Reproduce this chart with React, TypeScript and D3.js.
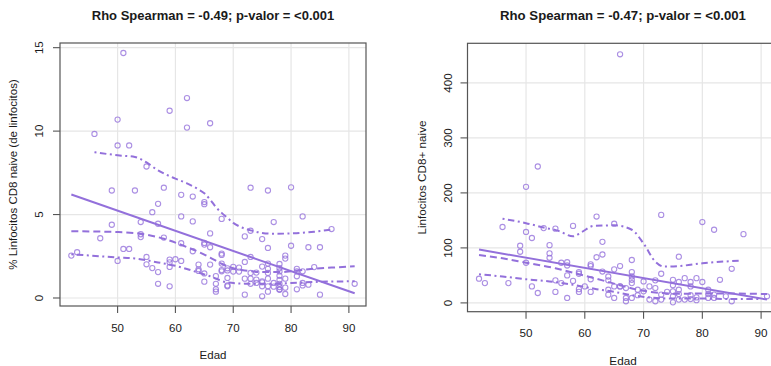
import React from 'react';
import * as d3 from 'd3';

// ---------- Left panel data: % Linfocitos CD8 naive ----------
const leftTitle = 'Rho Spearman = -0.49; p-valor = <0.001';
const leftYLabel = '% Linfocitos CD8 naive (de linfocitos)';
const leftAges = [
  51, 46, 50, 50, 52, 55, 59, 62, 62, 66, 49, 53, 58, 61, 63, 65, 65, 57, 56, 61,
  68, 63, 54, 57, 49, 73, 76, 80, 82, 77, 73, 87, 66, 54, 54, 47, 58, 72, 75, 65,
  65, 61, 66, 76, 80, 83, 85, 51, 52, 63, 68, 68, 73, 79, 79, 42, 43, 55, 50, 59,
  59, 60, 61, 72, 64, 55, 68, 66, 76, 78, 59, 56, 70, 71, 69, 64, 64, 57, 65, 68,
  68, 69, 70, 71, 73, 74, 75, 76, 76, 78, 78, 81, 81, 81, 82, 84, 67, 69, 72, 73,
  74, 75, 76, 78, 78, 79, 65, 57, 67, 73, 74, 75, 77, 78, 82, 83, 82, 59, 69, 69,
  75, 76, 77, 78, 79, 81, 91, 67, 67, 72, 76, 79, 85, 75, 78, 78,
];
const leftVals = [
  14.68, 9.83, 10.69, 9.14, 9.14, 7.88, 11.22, 11.98, 10.21, 10.47, 6.44, 6.44, 6.61, 6.18, 6.08, 5.75, 5.62, 5.64, 5.14, 4.89,
  4.74, 4.59, 4.55, 4.45, 4.39, 6.61, 6.44, 6.63, 4.89, 4.55, 4.03, 4.13, 3.87, 3.82, 3.65, 3.58, 3.62, 3.69, 3.53, 3.3,
  3.2, 3.28, 3.04, 3.0, 3.13, 3.04, 3.04, 2.94, 2.94, 2.8, 2.66, 2.58, 2.46, 2.54, 2.36, 2.54, 2.74, 2.46, 2.22, 2.3,
  2.14, 2.32, 2.22, 2.16, 2.0, 2.02, 2.06, 2.0, 2.06, 2.04, 1.86, 1.79, 1.87, 1.82, 1.78, 1.72, 1.62, 1.55, 1.47, 1.67,
  1.6, 1.65, 1.58, 1.58, 1.5, 1.52, 1.88, 1.75, 1.5, 1.79, 1.59, 1.75, 1.6, 1.3, 1.6, 1.85, 1.31, 1.2, 1.16, 1.16,
  1.1, 1.0, 1.16, 1.33, 1.08, 1.16, 0.98, 0.85, 0.85, 0.85, 0.9, 0.94, 0.9, 0.85, 0.9, 0.8, 0.75, 0.7, 0.75, 0.7,
  0.7, 0.7, 0.68, 0.52, 0.62, 0.52, 0.85, 0.52, 0.38, 0.2, 0.38, 0.24, 0.2, 0.1, 0.66, 0.49,
];
const leftFitAges = [42, 91];
const leftFitVals = [6.2, 0.28];
const leftMedAges = [42, 50, 54, 58, 62, 65, 66, 68, 70, 72, 75, 78, 80, 83, 87, 91];
const leftMedVals = [4.0, 3.95, 3.85, 3.55, 3.05, 2.6, 2.42, 2.05, 1.78, 1.65, 1.55, 1.55, 1.6, 1.72, 1.82, 1.9];
const leftLowAges = [42, 45, 50, 53, 57, 60, 63, 66, 69, 72, 76, 80, 85, 91];
const leftLowVals = [2.62, 2.55, 2.43, 2.37, 2.13, 1.93, 1.63, 1.3, 0.93, 0.86, 0.85, 0.9, 0.97, 1.0];
const leftHighAges = [46, 50, 53, 55, 57, 60, 62, 64, 65, 66, 67, 68, 69, 70, 71, 73, 75, 77, 80, 84, 87];
const leftHighVals = [8.74, 8.55, 8.45, 8.12, 7.65, 7.15, 6.87, 6.5, 6.27, 5.9, 5.45, 5.1, 4.8, 4.5, 4.3, 4.05, 3.9, 3.85, 3.87, 3.97, 4.1];
const leftYTicks = [0, 5, 10, 15];

// ---------- Right panel data: Linfocitos CD8+ naive ----------
const rightTitle = 'Rho Spearman = -0.47; p-valor = <0.001';
const rightYLabel = 'Linfocitos CD8+ naive';
const rightAges = [
  66, 52, 42, 43, 46, 47, 49, 49, 50, 50, 50, 51, 51, 52, 53, 54, 54, 54, 55, 55,
  55, 56, 56, 57, 57, 57, 57, 58, 58, 59, 59, 59, 59, 60, 61, 61, 61, 61, 62, 62,
  63, 63, 63, 64, 64, 64, 64, 65, 65, 65, 65, 66, 66, 67, 67, 67, 68, 68, 68, 68,
  68, 68, 69, 69, 70, 70, 71, 71, 72, 72, 72, 73, 73, 73, 73, 74, 75, 75, 75, 75,
  75, 76, 76, 76, 76, 77, 77, 78, 78, 78, 79, 79, 79, 80, 80, 81, 81, 81, 82, 82,
  82, 83, 84, 85, 85, 87, 91, 66, 76, 78,
];
const rightVals = [
  452, 248, 44, 36, 138, 36, 104, 93, 211, 129, 73, 30, 118, 18, 136, 105, 90, 82, 135, 41,
  20, 36, 73, 74, 68, 50, 9, 140, 40, 56, 53, 25, 20, 30, 70, 67, 43, 20, 157, 83,
  111, 88, 57, 48, 41, 24, 15, 144, 61, 30, 9, 67, 30, 27, 9, 3, 78, 56, 48, 42,
  36, 9, 24, 14, 39, 21, 30, 6, 41, 27, 3, 160, 53, 15, 6, 20, 42, 32, 21, 12,
  1, 84, 38, 24, 6, 45, 6, 38, 14, 7, 45, 10, 5, 147, 38, 24, 16, 9, 133, 15,
  9, 42, 12, 62, 3, 125, 12, 30, 16, 30,
];
const rightFitAges = [42, 91];
const rightFitVals = [97, 6];
const rightMedAges = [42, 46, 50, 55, 59, 63, 66, 69, 72, 76, 80, 85, 91];
const rightMedVals = [87, 81, 73, 63, 52, 41, 32, 24, 19, 16.5, 17, 17, 16];
const rightLowAges = [42, 46, 50, 54, 58, 62, 65, 68, 71, 75, 80, 85, 90];
const rightLowVals = [52, 48, 43, 39, 33, 25, 20, 14, 10, 8, 8, 7, 7];
const rightHighAges = [46, 50, 53, 55.5, 58, 59.5, 61.5, 65, 68, 70, 72, 73.5, 76, 80, 86.5];
const rightHighVals = [153, 145, 137, 131, 121, 129, 140, 141, 133, 108, 75, 66, 67, 72, 77];
const rightYTicks = [0, 100, 200, 300, 400];

const xTicks = [50, 60, 70, 80, 90];
const xLabel = 'Edad';

const PURPLE = '#9370DB';
const FONT = '"Liberation Sans", Arial, Helvetica, sans-serif';

type PanelProps = {
  box: [number, number, number, number]; // x0, x1, y0(top), y1(bottom)
  yDomain: [number, number];
  ages: number[];
  vals: number[];
  fit: [number[], number[]];
  med: [number[], number[]];
  low: [number[], number[]];
  high: [number[], number[]];
  yTicks: number[];
  title: string;
  titleY: number;
  titleSize: number;
  yLabel: string;
  yLabelX: number;
  yTickLabelX: number;
  xTickLabelY: number;
  xLabelY: number;
  fontSize: number;
  clipId: string;
};

function Panel(p: PanelProps) {
  const [x0, x1, y0, y1] = p.box;
  const x = d3.scaleLinear().domain([40.04, 92.96]).range([x0, x1]);
  const y = d3.scaleLinear().domain(p.yDomain).range([y1, y0]);
  const cx = (x0 + x1) / 2;
  const cy = (y0 + y1) / 2;

  const mk = (xs: number[], ys: number[], curve: d3.CurveFactory) =>
    d3
      .line<number>()
      .x((_, i) => x(xs[i]))
      .y((_, i) => y(ys[i]))
      .curve(curve)(xs) || '';

  const fitPath = mk(p.fit[0], p.fit[1], d3.curveLinear);
  const medPath = mk(p.med[0], p.med[1], d3.curveMonotoneX);
  const lowPath = mk(p.low[0], p.low[1], d3.curveMonotoneX);
  const highPath = mk(p.high[0], p.high[1], d3.curveMonotoneX);

  return (
    <g fontFamily={FONT}>
      <defs>
        <clipPath id={p.clipId}>
          <rect x={x0} y={y0} width={x1 - x0} height={y1 - y0} />
        </clipPath>
      </defs>
      {/* grid */}
      {xTicks.map((t) => (
        <line key={'gx' + t} x1={x(t)} x2={x(t)} y1={y0} y2={y1} stroke="#e6e6e6" strokeWidth={1.2} />
      ))}
      {p.yTicks.map((t) => (
        <line key={'gy' + t} x1={x0} x2={x1} y1={y(t)} y2={y(t)} stroke="#e6e6e6" strokeWidth={1.2} />
      ))}
      <g clipPath={`url(#${p.clipId})`}>
        {p.ages.map((a, i) => (
          <circle
            key={'p' + i}
            cx={x(a)}
            cy={y(p.vals[i])}
            r={2.6}
            fill="none"
            stroke={PURPLE}
            strokeOpacity={0.78}
            strokeWidth={1.1}
          />
        ))}
        <path d={fitPath} fill="none" stroke={PURPLE} strokeWidth={2} />
        <path d={medPath} fill="none" stroke={PURPLE} strokeWidth={2} strokeDasharray="7,4" />
        <path d={lowPath} fill="none" stroke={PURPLE} strokeWidth={2} strokeDasharray="2,3.5,6.5,3.5" />
        <path d={highPath} fill="none" stroke={PURPLE} strokeWidth={2} strokeDasharray="2,3.5,6.5,3.5" />
      </g>
      {/* box */}
      <rect x={x0} y={y0} width={x1 - x0} height={y1 - y0} fill="none" stroke="#555" strokeWidth={1.2} />
      {/* x axis ticks */}
      {xTicks.map((t) => (
        <g key={'xt' + t}>
          <line x1={x(t)} x2={x(t)} y1={y1} y2={y1 + 7} stroke="#555" strokeWidth={1.1} />
          <text x={x(t)} y={p.xTickLabelY} textAnchor="middle" fontSize={p.fontSize} fill="#1a1a1a">
            {t}
          </text>
        </g>
      ))}
      {/* y axis ticks */}
      {p.yTicks.map((t) => (
        <g key={'yt' + t}>
          <line x1={x0 - 7} x2={x0} y1={y(t)} y2={y(t)} stroke="#555" strokeWidth={1.1} />
          <text
            transform={`translate(${p.yTickLabelX},${y(t)}) rotate(-90)`}
            textAnchor="middle"
            fontSize={p.fontSize}
            fill="#1a1a1a"
          >
            {t}
          </text>
        </g>
      ))}
      <text x={cx} y={p.titleY} textAnchor="middle" fontSize={p.titleSize} fontWeight="bold" fill="#1a1a1a">
        {p.title}
      </text>
      <text x={cx} y={p.xLabelY} textAnchor="middle" fontSize={p.fontSize} fill="#1a1a1a">
        {xLabel}
      </text>
      <text
        transform={`translate(${p.yLabelX},${cy}) rotate(-90)`}
        textAnchor="middle"
        fontSize={p.fontSize}
        fill="#1a1a1a"
      >
        {p.yLabel}
      </text>
    </g>
  );
}

export default function App() {
  return (
    <svg
      width={771}
      height={366}
      style={{ position: 'absolute', left: 0, top: 0, display: 'block', background: '#fff' }}
    >
      <rect x={0} y={0} width={771} height={366} fill="#fff" />
      <Panel
        box={[60, 366, 43, 306]}
        yDomain={[-0.48, 15.28]}
        ages={leftAges}
        vals={leftVals}
        fit={[leftFitAges, leftFitVals]}
        med={[leftMedAges, leftMedVals]}
        low={[leftLowAges, leftLowVals]}
        high={[leftHighAges, leftHighVals]}
        yTicks={leftYTicks}
        title={leftTitle}
        titleY={19.5}
        titleSize={13}
        yLabel={leftYLabel}
        yLabelX={17}
        yTickLabelX={43.3}
        xTickLabelY={331.5}
        xLabelY={358.5}
        fontSize={11.5}
        clipId="clipL"
      />
      <Panel
        box={[467.5, 778.5, 43.3, 311.7]}
        yDomain={[-16, 472]}
        ages={rightAges}
        vals={rightVals}
        fit={[rightFitAges, rightFitVals]}
        med={[rightMedAges, rightMedVals]}
        low={[rightLowAges, rightLowVals]}
        high={[rightHighAges, rightHighVals]}
        yTicks={rightYTicks}
        title={rightTitle}
        titleY={20}
        titleSize={13.2}
        yLabel={rightYLabel}
        yLabelX={426}
        yTickLabelX={451.5}
        xTickLabelY={337}
        xLabelY={365}
        fontSize={11.7}
        clipId="clipR"
      />
    </svg>
  );
}
